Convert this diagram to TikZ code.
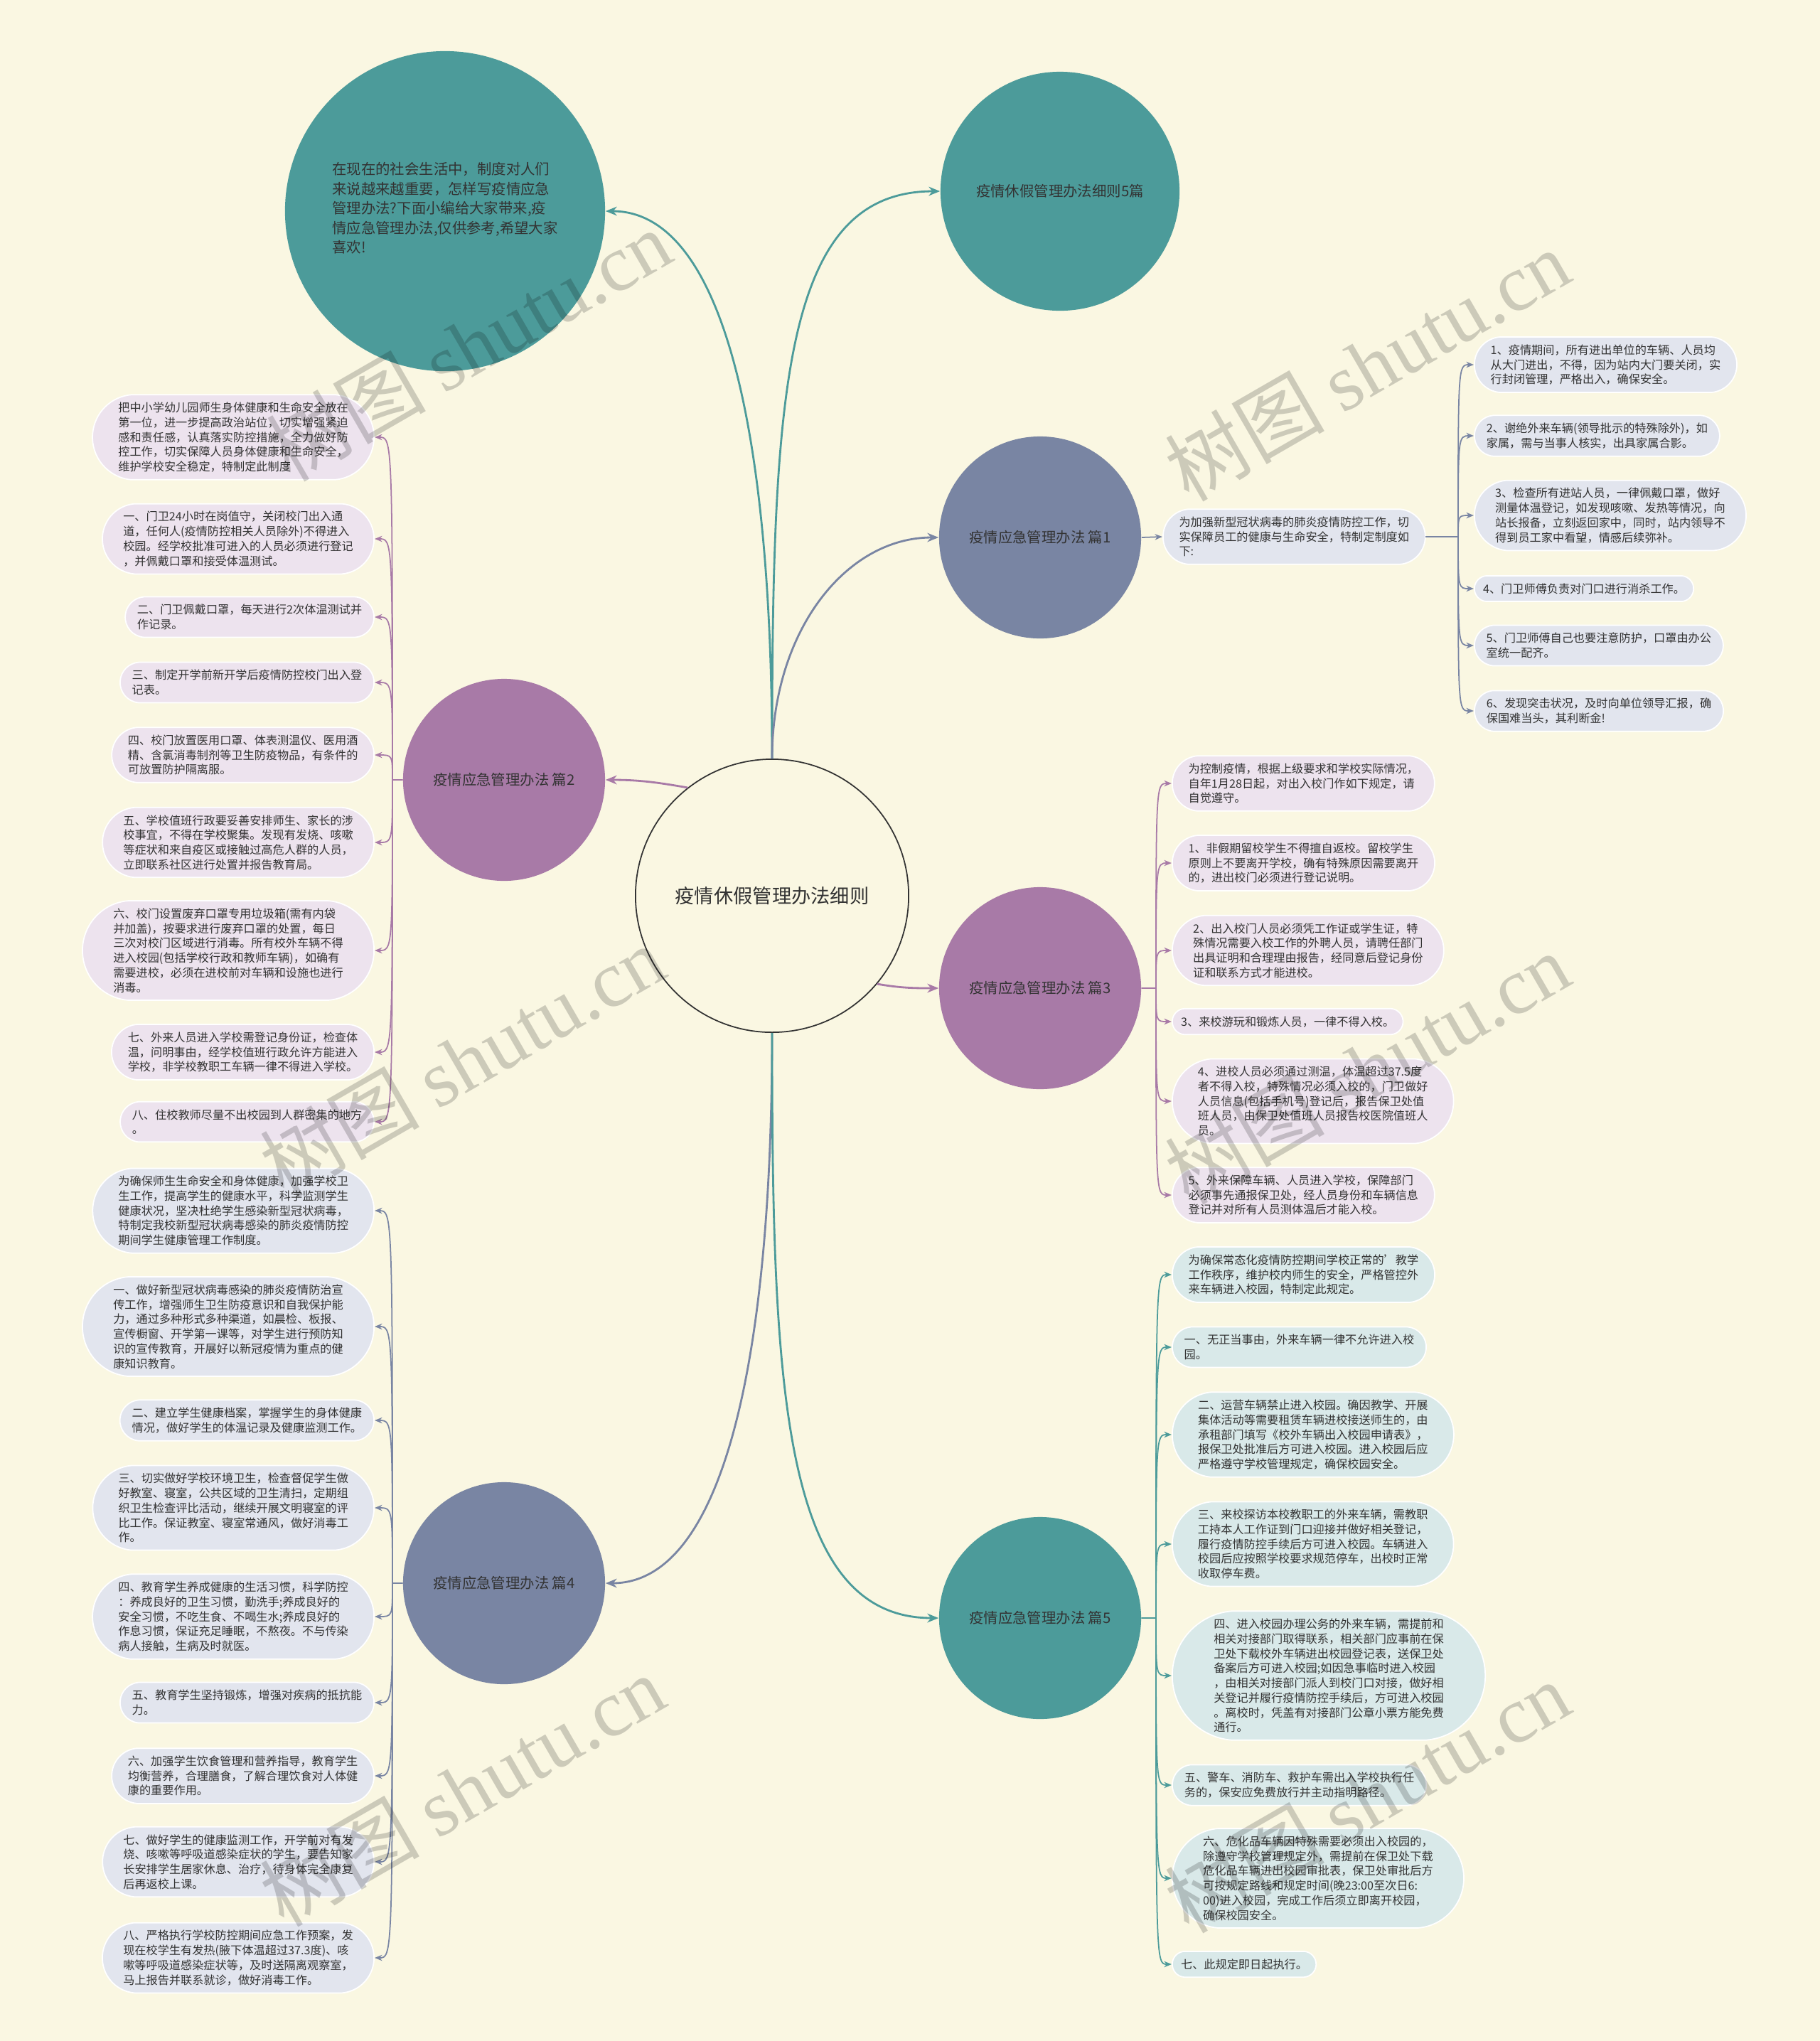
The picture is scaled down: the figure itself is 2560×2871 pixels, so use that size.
\documentclass[tikz,border=0pt]{standalone}
\usepackage{fontspec}
\setmainfont{Noto Sans CJK SC}
\newfontfamily\wmfont{Liberation Serif}
\usepackage{xcolor}
\usepackage{tikz}
\usetikzlibrary{arrows.meta, positioning, calc, shapes.misc}
\definecolor{PageBg}{RGB}{250,247,226}
\definecolor{Teal}{RGB}{76,155,154}
\definecolor{Slate}{RGB}{121,133,163}
\definecolor{Mauve}{RGB}{168,122,167}
\definecolor{LeafMauve}{RGB}{237,227,238}
\definecolor{LeafSlate}{RGB}{226,229,238}
\definecolor{LeafTeal}{RGB}{217,233,233}
\definecolor{InkGray}{RGB}{51,51,51}
\tikzset{
  topic/.style={circle, minimum size=#1, inner sep=0pt, align=center,
    text=InkGray, font=\fontsize{5.8}{7.8}\selectfont},
  leaf/.style={rounded rectangle, rounded rectangle arc length=170,
    draw=white, line width=0.5pt, fill=#1, align=left,
    inner xsep=3pt, inner ysep=3pt, text=InkGray,
    font=\fontsize{4.6}{5.9}\selectfont},
  link/.style={draw=#1, line width=0.8pt, -{Stealth[length=4.5pt,width=3.6pt]}},
  twig/.style={draw=#1, line width=0.5pt, -{Stealth[length=3pt,width=2.4pt]}},
  wmark/.style={font=\fontsize{32}{32}\selectfont, text=black, text opacity=0.18}
}
\begin{document}
\begin{tikzpicture}[x=0.01cm, y=-0.01cm]
  \useasboundingbox (0,0) rectangle (2560,2871);
  \fill[PageBg] (0,0) rectangle (2560,2871);

  % centre and first level
  \node[circle, minimum size=3.84cm, draw=black!80, line width=0.5pt, fill=PageBg,
    text=InkGray, font=\fontsize{7.75}{9}\selectfont] (root) at (1086,1260) {疫情休假管理办法细则};
  \node[topic=4.5cm, fill=Teal] (intro) at (626,297) {};
  \node[align=left, text=InkGray, font=\fontsize{5.8}{7.8}\selectfont] (introtext) at (626,293) {在现在的社会生活中，制度对人们\\来说越来越重要，怎样写疫情应急\\管理办法?下面小编给大家带来,疫\\情应急管理办法,仅供参考,希望大家\\喜欢!};
  \node[topic=3.36cm, fill=Teal] (series) at (1491,269) {疫情休假管理办法细则5篇};
  \node[topic=2.84cm, fill=Slate] (p1) at (1463,756) {疫情应急管理办法 篇1};
  \node[topic=2.84cm, fill=Mauve] (p2) at (709,1097) {疫情应急管理办法 篇2};
  \node[topic=2.84cm, fill=Mauve] (p3) at (1463,1390) {疫情应急管理办法 篇3};
  \node[topic=2.84cm, fill=Slate] (p4) at (709,2227) {疫情应急管理办法 篇4};
  \node[topic=2.84cm, fill=Teal] (p5) at (1463,2276) {疫情应急管理办法 篇5};

  \draw[link=Teal] (root.north) .. controls +(0,-480) and +(160,0) .. (intro.east);
  \draw[link=Teal] (root.north) .. controls +(0,-520) and +(-220,0) .. (series.west);
  \draw[link=Slate] (root.north) .. controls +(0,-180) and +(-130,0) .. (p1.west);
  \draw[link=Mauve] (root.128) to[out=170, in=0] (p2.east);
  \draw[link=Mauve] (root.-40) to[out=-10, in=180] (p3.west);
  \draw[link=Slate] (root.south) .. controls +(0,480) and +(160,0) .. (p4.east);
  \draw[link=Teal] (root.south) .. controls +(0,500) and +(-220,0) .. (p5.west);

  % 篇1
  \node[leaf=LeafSlate, anchor=west] (p1x) at (1635,755) {为加强新型冠状病毒的肺炎疫情防控工作，切\\实保障员工的健康与生命安全，特制定制度如\\下:};
  \draw[twig=Slate] (p1.east) -- (p1x.west);
  \node[leaf=LeafSlate, anchor=west] (c1a) at (2073,513) {1、疫情期间，所有进出单位的车辆、人员均\\从大门进出，不得，因为站内大门要关闭，实\\行封闭管理，严格出入，确保安全。};
  \node[leaf=LeafSlate, anchor=west] (c1b) at (2073,613) {2、谢绝外来车辆(领导批示的特殊除外)，如\\家属，需与当事人核实，出具家属合影。};
  \node[leaf=LeafSlate, anchor=west] (c1c) at (2073,725) {3、检查所有进站人员，一律佩戴口罩，做好\\测量体温登记，如发现咳嗽、发热等情况，向\\站长报备，立刻返回家中，同时，站内领导不\\得到员工家中看望，情感后续弥补。};
  \node[leaf=LeafSlate, anchor=west] (c1d) at (2073,828) {4、门卫师傅负责对门口进行消杀工作。};
  \node[leaf=LeafSlate, anchor=west] (c1e) at (2073,908) {5、门卫师傅自己也要注意防护，口罩由办公\\室统一配齐。};
  \node[leaf=LeafSlate, anchor=west] (c1f) at (2073,1000) {6、发现突击状况，及时向单位领导汇报，确\\保国难当头，其利断金!};
  \coordinate (j1) at (2051,755);
  \foreach \n in {a,...,f}
    \draw[twig=Slate] (p1x.east) -- (j1) .. controls (j1 |- c1\n.west) .. (c1\n.west);

  % 篇2
  \node[leaf=LeafMauve, anchor=east] (p2a) at (527,615) {把中小学幼儿园师生身体健康和生命安全放在\\第一位，进一步提高政治站位，切实增强紧迫\\感和责任感，认真落实防控措施，全力做好防\\控工作，切实保障人员身体健康和生命安全，\\维护学校安全稳定，特制定此制度};
  \node[leaf=LeafMauve, anchor=east] (p2b) at (527,758) {一、门卫24小时在岗值守，关闭校门出入通\\道，任何人(疫情防控相关人员除外)不得进入\\校园。经学校批准可进入的人员必须进行登记\\，并佩戴口罩和接受体温测试。};
  \node[leaf=LeafMauve, anchor=east] (p2c) at (527,868) {二、门卫佩戴口罩，每天进行2次体温测试并\\作记录。};
  \node[leaf=LeafMauve, anchor=east] (p2d) at (527,960) {三、制定开学前新开学后疫情防控校门出入登\\记表。};
  \node[leaf=LeafMauve, anchor=east] (p2e) at (527,1062) {四、校门放置医用口罩、体表测温仪、医用酒\\精、含氯消毒制剂等卫生防疫物品，有条件的\\可放置防护隔离服。};
  \node[leaf=LeafMauve, anchor=east] (p2f) at (527,1185) {五、学校值班行政要妥善安排师生、家长的涉\\校事宜，不得在学校聚集。发现有发烧、咳嗽\\等症状和来自疫区或接触过高危人群的人员，\\立即联系社区进行处置并报告教育局。};
  \node[leaf=LeafMauve, anchor=east] (p2g) at (527,1337) {六、校门设置废弃口罩专用垃圾箱(需有内袋\\并加盖)，按要求进行废弃口罩的处置，每日\\三次对校门区域进行消毒。所有校外车辆不得\\进入校园(包括学校行政和教师车辆)，如确有\\需要进校，必须在进校前对车辆和设施也进行\\消毒。};
  \node[leaf=LeafMauve, anchor=east] (p2h) at (527,1480) {七、外来人员进入学校需登记身份证，检查体\\温，问明事由，经学校值班行政允许方能进入\\学校，非学校教职工车辆一律不得进入学校。};
  \node[leaf=LeafMauve, anchor=east] (p2i) at (527,1578) {八、住校教师尽量不出校园到人群密集的地方\\。};
  \coordinate (j2) at (552,1097);
  \foreach \n in {a,...,i}
    \draw[twig=Mauve] (p2.west) -- (j2) .. controls (j2 |- p2\n.east) .. (p2\n.east);

  % 篇3
  \node[leaf=LeafMauve, anchor=west] (p3a) at (1648,1102) {为控制疫情，根据上级要求和学校实际情况，\\自年1月28日起，对出入校门作如下规定，请\\自觉遵守。};
  \node[leaf=LeafMauve, anchor=west] (p3b) at (1648,1214) {1、非假期留校学生不得擅自返校。留校学生\\原则上不要离开学校，确有特殊原因需要离开\\的，进出校门必须进行登记说明。};
  \node[leaf=LeafMauve, anchor=west] (p3c) at (1648,1337) {2、出入校门人员必须凭工作证或学生证，特\\殊情况需要入校工作的外聘人员，请聘任部门\\出具证明和合理理由报告，经同意后登记身份\\证和联系方式才能进校。};
  \node[leaf=LeafMauve, anchor=west] (p3d) at (1648,1437) {3、来校游玩和锻炼人员，一律不得入校。};
  \node[leaf=LeafMauve, anchor=west] (p3e) at (1648,1549) {4、进校人员必须通过测温，体温超过37.5度\\者不得入校，特殊情况必须入校的，门卫做好\\人员信息(包括手机号)登记后，报告保卫处值\\班人员，由保卫处值班人员报告校医院值班人\\员。};
  \node[leaf=LeafMauve, anchor=west] (p3f) at (1648,1681) {5、外来保障车辆、人员进入学校，保障部门\\必须事先通报保卫处，经人员身份和车辆信息\\登记并对所有人员测体温后才能入校。};
  \coordinate (j3) at (1626,1390);
  \foreach \n in {a,...,f}
    \draw[twig=Mauve] (p3.east) -- (j3) .. controls (j3 |- p3\n.west) .. (p3\n.west);

  % 篇4
  \node[leaf=LeafSlate, anchor=east] (p4a) at (527,1703) {为确保师生生命安全和身体健康，加强学校卫\\生工作，提高学生的健康水平，科学监测学生\\健康状况，坚决杜绝学生感染新型冠状病毒，\\特制定我校新型冠状病毒感染的肺炎疫情防控\\期间学生健康管理工作制度。};
  \node[leaf=LeafSlate, anchor=east] (p4b) at (527,1866) {一、做好新型冠状病毒感染的肺炎疫情防治宣\\传工作，增强师生卫生防疫意识和自我保护能\\力，通过多种形式多种渠道，如晨检、板报、\\宣传橱窗、开学第一课等，对学生进行预防知\\识的宣传教育，开展好以新冠疫情为重点的健\\康知识教育。};
  \node[leaf=LeafSlate, anchor=east] (p4c) at (527,1998) {二、建立学生健康档案，掌握学生的身体健康\\情况，做好学生的体温记录及健康监测工作。};
  \node[leaf=LeafSlate, anchor=east] (p4d) at (527,2121) {三、切实做好学校环境卫生，检查督促学生做\\好教室、寝室，公共区域的卫生清扫，定期组\\织卫生检查评比活动，继续开展文明寝室的评\\比工作。保证教室、寝室常通风，做好消毒工\\作。};
  \node[leaf=LeafSlate, anchor=east] (p4e) at (527,2274) {四、教育学生养成健康的生活习惯，科学防控\\：养成良好的卫生习惯，勤洗手;养成良好的\\安全习惯，不吃生食、不喝生水;养成良好的\\作息习惯，保证充足睡眠，不熬夜。不与传染\\病人接触，生病及时就医。};
  \node[leaf=LeafSlate, anchor=east] (p4f) at (527,2395) {五、教育学生坚持锻炼，增强对疾病的抵抗能\\力。};
  \node[leaf=LeafSlate, anchor=east] (p4g) at (527,2498) {六、加强学生饮食管理和营养指导，教育学生\\均衡营养，合理膳食，了解合理饮食对人体健\\康的重要作用。};
  \node[leaf=LeafSlate, anchor=east] (p4h) at (527,2619) {七、做好学生的健康监测工作，开学前对有发\\烧、咳嗽等呼吸道感染症状的学生，要告知家\\长安排学生居家休息、治疗，待身体完全康复\\后再返校上课。};
  \node[leaf=LeafSlate, anchor=east] (p4i) at (527,2754) {八、严格执行学校防控期间应急工作预案，发\\现在校学生有发热(腋下体温超过37.3度)、咳\\嗽等呼吸道感染症状等，及时送隔离观察室，\\马上报告并联系就诊，做好消毒工作。};
  \coordinate (j4) at (552,2227);
  \foreach \n in {a,...,i}
    \draw[twig=Slate] (p4.west) -- (j4) .. controls (j4 |- p4\n.east) .. (p4\n.east);

  % 篇5
  \node[leaf=LeafTeal, anchor=west] (p5a) at (1648,1793) {为确保常态化疫情防控期间学校正常的'教学\\工作秩序，维护校内师生的安全，严格管控外\\来车辆进入校园，特制定此规定。};
  \node[leaf=LeafTeal, anchor=west] (p5b) at (1648,1895) {一、无正当事由，外来车辆一律不允许进入校\\园。};
  \node[leaf=LeafTeal, anchor=west] (p5c) at (1648,2018) {二、运营车辆禁止进入校园。确因教学、开展\\集体活动等需要租赁车辆进校接送师生的，由\\承租部门填写《校外车辆出入校园申请表》，\\报保卫处批准后方可进入校园。进入校园后应\\严格遵守学校管理规定，确保校园安全。};
  \node[leaf=LeafTeal, anchor=west] (p5d) at (1648,2172) {三、来校探访本校教职工的外来车辆，需教职\\工持本人工作证到门口迎接并做好相关登记，\\履行疫情防控手续后方可进入校园。车辆进入\\校园后应按照学校要求规范停车，出校时正常\\收取停车费。};
  \node[leaf=LeafTeal, anchor=west] (p5e) at (1648,2357) {四、进入校园办理公务的外来车辆，需提前和\\相关对接部门取得联系，相关部门应事前在保\\卫处下载校外车辆进出校园登记表，送保卫处\\备案后方可进入校园;如因急事临时进入校园\\，由相关对接部门派人到校门口对接，做好相\\关登记并履行疫情防控手续后，方可进入校园\\。离校时，凭盖有对接部门公章小票方能免费\\通行。};
  \node[leaf=LeafTeal, anchor=west] (p5f) at (1648,2511) {五、警车、消防车、救护车需出入学校执行任\\务的，保安应免费放行并主动指明路径。};
  \node[leaf=LeafTeal, anchor=west] (p5g) at (1648,2642) {六、危化品车辆因特殊需要必须出入校园的，\\除遵守学校管理规定外，需提前在保卫处下载\\危化品车辆进出校园审批表，保卫处审批后方\\可按规定路线和规定时间(晚23:00至次日6:\\00)进入校园，完成工作后须立即离开校园，\\确保校园安全。};
  \node[leaf=LeafTeal, anchor=west] (p5h) at (1648,2763) {七、此规定即日起执行。};
  \coordinate (j5) at (1626,2276);
  \foreach \n in {a,...,h}
    \draw[twig=Teal] (p5.east) -- (j5) .. controls (j5 |- p5\n.west) .. (p5\n.west);

  % watermarks
  \node[wmark, rotate=30] (wm1) at (659,485) {树图 {\wmfont shutu.cn}};
  \node[wmark, rotate=30] (wm2) at (1923,513) {树图 {\wmfont shutu.cn}};
  \node[wmark, rotate=30] (wm3) at (650,1492) {树图 {\wmfont shutu.cn}};
  \node[wmark, rotate=30] (wm4) at (1923,1502) {树图 {\wmfont shutu.cn}};
  \node[wmark, rotate=30] (wm5) at (650,2518) {树图 {\wmfont shutu.cn}};
  \node[wmark, rotate=30] (wm6) at (1923,2527) {树图 {\wmfont shutu.cn}};
\end{tikzpicture}
\end{document}
